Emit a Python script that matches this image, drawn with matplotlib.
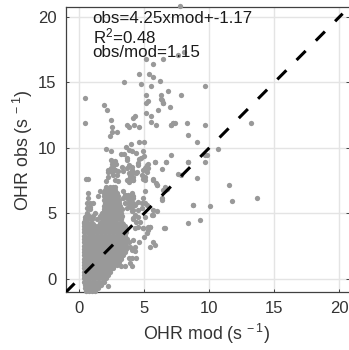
import numpy as np
import matplotlib
matplotlib.use("Agg")
import matplotlib.pyplot as plt

# Dense cloud: each row is an observed value and the modelled values read along it
cloud_y = [-0.95, -0.7, -0.45, -0.2, 0.05, 0.3, 0.55, 0.8, 1.05, 1.3, 1.55, 1.8, 2.05, 2.3, 2.55, 2.8,
           3.05, 3.3, 3.55, 3.8, 4.05, 4.3, 4.55, 4.8, 5.05, 5.3, 5.55, 5.8, 6.05, 6.3, 6.55, 6.8, 7.05,
           -0.32, 0.18, 0.68, 1.18, 1.68, 2.18, 2.68, 3.18, 3.68, 4.18, 4.68, 5.18, 5.68, 6.18, 6.68]
cloud_x = [
    [0.55, 0.8, 1.0, 1.2],
    [0.45, 0.7, 0.95, 1.2, 1.45],
    [0.42, 0.62, 0.88, 1.12, 1.4, 1.65],
    [0.4, 0.7, 1.0, 1.25, 1.55, 1.9],
    [0.38, 0.6, 0.85, 1.15, 1.45, 1.75, 2.05],
    [0.38, 0.73, 1.03, 1.33, 1.63, 1.93, 2.2],
    [0.38, 0.6, 0.88, 1.18, 1.48, 1.78, 2.08, 2.35],
    [0.38, 0.73, 1.03, 1.33, 1.63, 1.93, 2.23, 2.45, 2.62],
    [0.36, 0.6, 0.88, 1.18, 1.48, 1.78, 2.08, 2.38, 2.68, 2.9],
    [0.36, 0.73, 1.03, 1.33, 1.63, 1.93, 2.23, 2.53, 2.83, 3.05],
    [0.36, 0.6, 0.88, 1.18, 1.48, 1.78, 2.08, 2.38, 2.68, 2.98, 3.2],
    [0.36, 0.73, 1.03, 1.33, 1.63, 1.93, 2.23, 2.53, 2.83, 3.13, 3.35],
    [0.36, 0.6, 0.88, 1.18, 1.48, 1.78, 2.08, 2.38, 2.68, 2.98, 3.28, 3.52],
    [0.36, 0.73, 1.03, 1.33, 1.63, 1.93, 2.23, 2.53, 2.83, 3.13, 3.43, 3.6],
    [0.36, 0.6, 0.88, 1.18, 1.48, 1.78, 2.08, 2.38, 2.68, 2.98, 3.28, 3.6],
    [0.36, 0.73, 1.03, 1.33, 1.63, 1.93, 2.23, 2.53, 2.83, 3.13, 3.43, 3.62],
    [0.36, 0.6, 0.88, 1.18, 1.48, 1.78, 2.08, 2.38, 2.68, 2.98, 3.28, 3.65],
    [0.36, 0.73, 1.03, 1.33, 1.63, 1.93, 2.23, 2.53, 2.83, 3.13, 3.43, 3.55],
    [0.36, 0.6, 0.88, 1.18, 1.48, 1.78, 2.08, 2.38, 2.68, 2.98, 3.28, 3.6],
    [0.36, 0.73, 1.03, 1.33, 1.63, 1.93, 2.23, 2.53, 2.83, 3.13, 3.43, 3.58],
    [0.36, 0.6, 0.88, 1.25, 1.48, 1.78, 2.08, 2.38, 2.68, 2.98, 3.28, 3.5],
    [0.36, 0.65, 0.95, 1.63, 1.93, 2.23, 2.53, 2.83, 3.13, 3.3],
    [0.42, 0.7, 1.0, 1.35, 1.75, 2.05, 2.35, 2.65, 2.95, 3.2],
    [0.5, 0.8, 1.1, 1.6, 1.9, 2.2, 2.5, 2.8, 3.1, 3.3],
    [0.65, 1.2, 1.75, 2.05, 2.35, 2.65, 2.95, 3.25],
    [0.85, 1.9, 2.2, 2.5, 2.8, 3.1, 3.3],
    [1.95, 2.05, 2.35, 2.65, 2.95, 3.15],
    [2.0, 2.2, 2.5, 2.8, 3.1],
    [1.9, 2.05, 2.35, 2.65, 2.95, 3.1],
    [1.95, 2.2, 2.5, 2.8, 3.0],
    [1.95, 2.1, 2.4, 2.7, 2.95],
    [2.0, 2.25, 2.55, 2.8],
    [2.1, 2.35, 2.6, 2.75],
    [0.5, 0.8, 1.1, 1.4, 1.7],
    [0.48, 0.78, 1.08, 1.38, 1.68, 1.98],
    [0.46, 0.8, 1.1, 1.4, 1.7, 2.0, 2.3],
    [0.46, 0.78, 1.08, 1.38, 1.68, 1.98, 2.28, 2.58, 2.85],
    [0.46, 0.8, 1.1, 1.4, 1.7, 2.0, 2.3, 2.6, 2.9, 3.2],
    [0.46, 0.78, 1.08, 1.38, 1.68, 1.98, 2.28, 2.58, 2.88, 3.18, 3.45],
    [0.46, 0.8, 1.1, 1.4, 1.7, 2.0, 2.3, 2.6, 2.9, 3.2, 3.5],
    [0.46, 0.78, 1.08, 1.38, 1.68, 1.98, 2.28, 2.58, 2.88, 3.18, 3.5],
    [0.46, 0.8, 1.1, 1.4, 1.7, 2.0, 2.3, 2.6, 2.9, 3.2, 3.48],
    [0.46, 0.78, 1.08, 1.7, 1.98, 2.28, 2.58, 2.88, 3.18, 3.4],
    [0.6, 0.9, 1.8, 2.1, 2.4, 2.7, 3.0, 3.25],
    [1.9, 2.15, 2.45, 2.75, 3.05],
    [2.0, 2.3, 2.6, 2.9, 3.1],
    [2.0, 2.3, 2.6, 2.85],
    [2.05, 2.35, 2.65],
]

# Isolated points read one by one: modelled and observed OHR
mod_sparse = [0.48, 0.48, 1.9, 2.17, 2.43, 2.55, 2.9, 2.53, 2.4, 3.45, 4.62, 5.4, 5.67, 5.14, 5.67, 6.47,
              4.75, 5.55, 6.19, 6.85, 5.14, 6.31, 5.27, 5.14, 6.31, 6.44, 6.98, 6.06, 5.14, 5.52, 5.52, 5.93,
              4.3, 4.17, 3.7, 3.83, 4.22, 4.62, 7.05, 7.2, 4.62, 5.0, 3.96, 3.58, 3.83, 2.05, 2.43, 3.2, 3.45,
              4.09, 4.35, 3.7, 4.88, 4.75, 5.0, 4.62, 7.1, 5.8, 6.7, 2.43, 2.68, 2.81, 2.6, 5.27, 5.14, 4.5,
              4.09, 3.32, 2.25, 2.5, 2.76, 3.0, 3.4, 4.04, 4.42, 4.93, 7.75, 9.69, 7.87, 8.26, 9.69, 13.19,
              8.38, 9.05, 10.7, 9.69, 9.8, 8.38, 9.69, 7.36, 7.6, 8.07, 7.23, 7.1, 6.34, 6.46,
              2.6, 2.75, 2.5, 2.43, 2.76, 2.25, 2.5, 2.63, 2.9, 2.25, 3.0, 2.76, 2.1, 0.54, 0.7,
              3.65, 3.8, 3.65, 3.8, 4.17, 3.9, 3.65, 4.17, 3.8, 1.6, 0.7, 1.48, 0.7, 0.6, 0.85, 1.1, 0.6, 0.85,
              0.45, 0.35, 3.4, 3.5, 3.8, 4.05, 4.17, 3.9, 3.4, 3.8, 4.17, 3.65, 4.05, 4.17,
              4.55, 5.2, 5.3, 5.06, 5.2, 4.04, 3.9, 4.4, 4.8, 5.06, 4.93, 4.17, 3.78, 4.17, 5.06, 5.8, 6.7, 8.38,
              6.34, 7.6, 7.82, 5.7, 5.96, 5.9, 6.6, 6.47, 6.34, 5.1, 8.77, 3.53, 3.78, 4.04, 3.66, 4.17,
              3.78, 4.17, 4.55, 4.8, 3.53, 4.3, 3.9, 4.8, 4.17, 4.55, 4.3, 4.55, 4.4, 4.65, 4.17, 4.55, 4.3,
              4.93, 5.3, 5.45, 5.7, 5.96, 5.57, 5.06, 6.55, 8.38, 9.03, 11.5, 13.7, 11.76, 10.07, 8.77, 9.28,
              2.26, 6.6, 5.7, 5.46, 5.85, 5.0, 5.2, 5.46, 4.95, 5.33, 4.6, 4.3, 3.9, 4.18, 3.8, 4.05, 4.3,
              3.8, 4.05, 4.38, 3.9, 4.1, 3.55, 3.2, 6.35, 6.6, 6.75, 5.7, 5.97, 5.7, 4.95, 5.08, 5.2]
obs_sparse = [13.8, 11.9, 13.3, 12.9, 12.1, 11.6, 11.2, 11.2, 10.9, 15.0, 15.65, 15.65, 15.4, 16.8, 16.4, 16.8,
              14.85, 14.7, 15.1, 14.35, 14.05, 14.05, 13.55, 13.4, 13.7, 13.4, 13.15, 12.9, 12.65, 12.4, 12.0, 11.75,
              12.4, 12.25, 11.75, 11.6, 11.75, 11.6, 11.75, 11.9, 10.45, 10.45, 10.3, 10.1, 9.85, 9.95, 9.8, 9.55, 9.55,
              9.8, 9.65, 9.2, 9.8, 9.25, 9.35, 9.15, 9.45, 8.95, 8.95, 9.05, 8.95, 8.8, 8.65, 8.8, 8.55, 8.7,
              8.55, 8.55, 8.3, 8.3, 8.3, 8.25, 8.25, 8.25, 8.2, 8.3, 20.8, 14.73, 14.05, 11.9, 11.75, 11.9,
              11.0, 10.45, 9.95, 9.45, 9.45, 8.9, 8.9, 11.9, 17.1, 17.35, 11.9, 11.75, 13.65, 13.4,
              8.95, 9.0, 8.8, 8.45, 8.3, 8.2, 8.2, 7.9, 7.9, 7.8, 7.45, 7.55, 7.45, 7.6, 7.6,
              9.05, 8.7, 8.45, 8.05, 8.2, 7.8, 7.55, 7.55, 7.4, 6.7, 6.55, 6.3, 6.15, 5.77, 5.77, 5.77, 5.4, 5.5,
              4.75, 4.35, 6.7, 6.4, 6.3, 6.55, 6.15, 6.0, 6.15, 5.77, 5.65, 5.4, 5.15, 4.65,
              8.85, 8.7, 8.45, 8.45, 8.2, 8.3, 7.9, 8.05, 7.9, 7.8, 7.65, 7.8, 7.55, 7.55, 7.55, 8.9, 8.9, 8.9,
              8.37, 8.0, 7.9, 7.65, 7.2, 7.3, 7.0, 6.75, 6.15, 6.7, 5.65, 6.4, 6.4, 6.4, 6.15, 6.3,
              5.77, 5.77, 5.9, 5.77, 5.77, 5.65, 5.5, 5.4, 5.27, 5.27, 4.9, 4.75, 4.35, 4.35, 4.6, 4.0, 3.85,
              3.85, 4.0, 4.0, 5.27, 5.2, 4.9, 4.75, 3.85, 4.25, 7.73, 7.2, 6.2, 5.93, 5.55, 5.67, 4.5,
              -0.53, 3.87, 2.85, 2.47, 2.6, 3.2, 3.5, 4.0, 3.87, 3.75, 2.85, 2.47, 2.47, 3.0, 2.85, 2.2, 2.15,
              1.63, 1.63, 1.63, 1.2, 1.0, 1.0, 1.0, 6.03, 6.8, 6.9, 7.55, 7.2, 4.9, 6.15, 5.8, 5.65]

one_to_one = [-1.04, 20.25]
x_ticks = [0, 5, 10, 15, 20]
y_ticks = [0, 5, 10, 15, 20]
stats_lines = ["obs=4.25xmod+-1.17", "R$^{2}$=0.48", "obs/mod=1.15"]

plt.rcParams['font.family'] = ['Liberation Sans', 'DejaVu Sans']
plt.rcParams['mathtext.default'] = 'regular'
plt.rcParams['mathtext.fontset'] = 'custom'
plt.rcParams['mathtext.rm'] = 'Liberation Sans'

W, H = 349, 350
fig = plt.figure(figsize=(W / 100, H / 100), dpi=100)
ax = fig.add_axes([65.5 / W, 1 - 292 / H, (W - 65.5) / W, (292 - 7) / H])
ax.set_xlim(-1.04, 20.74)
ax.set_ylim(-1.0, 20.76)

ax.grid(True, color='#e4e4e4', lw=1.0, zorder=0)
ax.set_axisbelow(True)

all_x = np.concatenate([np.array(r, float) for r in cloud_x] + [np.array(mod_sparse)])
all_y = np.concatenate([np.full(len(r), v) for r, v in zip(cloud_x, cloud_y)] + [np.array(obs_sparse)])
ax.scatter(all_x, all_y, s=14.5, color='#999999', linewidths=0, zorder=3, clip_on=False)
ax.plot(one_to_one, one_to_one, color='black', lw=2.2, dashes=(4.2, 4.74),
        dash_capstyle='butt', zorder=4)

ax.set_xticks(x_ticks)
ax.set_yticks(y_ticks)
ax.tick_params(axis='both', direction='in', length=2.2, width=0.7, color='#404040',
               labelsize=12, labelcolor='#333333', top=False, right=True, pad=6.5)
for name in ['top', 'left', 'bottom']:
    ax.spines[name].set_color('#404040')
    ax.spines[name].set_linewidth(0.9)
ax.spines['right'].set_visible(False)

fig.text(207 / W, 1 - 339.5 / H, 'OHR mod (s$^{\\,-1}$)', fontsize=12.8, color='#333333',
         ha='center', va='baseline')
fig.text(22.5 / W, 1 - 150 / H, 'OHR obs (s$^{\\,-1}$)', fontsize=12.8, color='#333333',
         rotation=90, ha='center', va='center')

for line, base in zip(stats_lines, [22.7, 43, 57]):
    fig.text(92.5 / W, 1 - base / H, line, fontsize=12.2, color='#1a1a1a',
             ha='left', va='baseline', zorder=6)

fig.savefig('out.png', dpi=100)
